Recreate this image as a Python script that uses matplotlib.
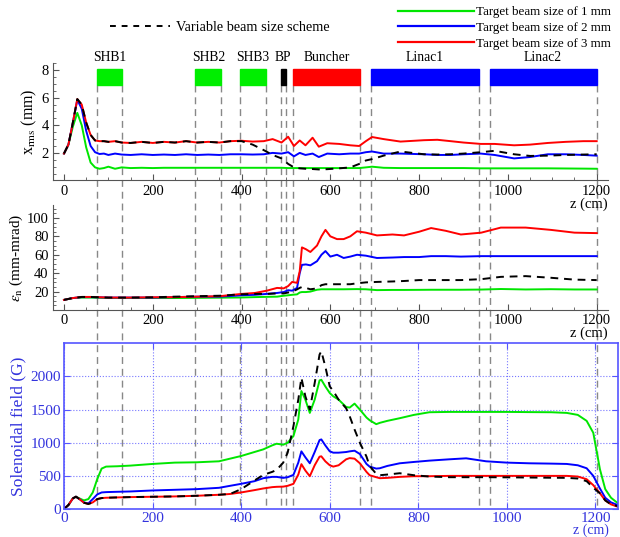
import matplotlib
matplotlib.use("Agg")
import matplotlib.pyplot as plt
from matplotlib.lines import Line2D
from matplotlib.patches import Rectangle
from matplotlib.ticker import MultipleLocator
import matplotlib.transforms as mtransforms

plt.rcParams['font.family'] = ['Liberation Serif', 'DejaVu Serif']
plt.rcParams['mathtext.fontset'] = 'stix'

# ---- beamline elements (z start, z end, colour) ----
elem_names = ['SHB1', 'SHB2', 'SHB3', 'BP', 'Buncher', 'Linac1', 'Linac2']
elem_start = [74, 296, 397, 488, 516, 691, 959]
elem_end = [130, 354, 454, 500, 666, 935, 1200]
elem_colors = ['#00ee00', '#00ee00', '#00ee00', 'black', '#ff0000', '#0000ff', '#0000ff']

# ---- x_rms (mm) ----
z_x = [0, 10, 20, 30, 40, 50, 60, 70, 80, 90, 100, 115, 130, 150, 175, 200, 225, 250, 275,
       300, 325, 350, 375, 400, 425, 450, 470, 490, 505, 518, 531, 544, 560, 574, 593, 620,
       645, 665, 680, 694, 720, 758, 811, 841, 871, 900, 939, 970, 1014, 1050, 1090, 1130,
       1170, 1200]
x_red = [1.95, 2.6, 4.2, 5.9, 5.5, 4.2, 3.3, 2.9, 2.85, 2.85, 2.8, 2.85, 2.75, 2.72, 2.8, 2.72,
         2.8, 2.75, 2.85, 2.75, 2.8, 2.75, 2.85, 2.88, 2.82, 2.85, 3.0, 2.75, 3.17, 2.5, 2.9,
         2.55, 3.1, 2.45, 2.7, 2.65, 2.55, 2.5, 2.85, 3.15, 3.0, 2.82, 2.92, 2.95, 2.85, 2.75,
         2.65, 2.65, 2.55, 2.6, 2.72, 2.8, 2.85, 2.85]
x_blue = [1.95, 2.6, 4.2, 5.85, 5.2, 3.6, 2.5, 2.05, 1.92, 1.95, 1.85, 1.95, 1.88, 1.85, 1.9,
          1.85, 1.88, 1.85, 1.9, 1.85, 1.88, 1.85, 1.9, 1.9, 1.88, 1.9, 2.0, 1.95, 2.05, 1.75,
          2.0, 1.85, 1.95, 1.7, 1.95, 1.9, 1.95, 1.95, 2.05, 2.1, 1.95, 1.95, 1.9, 1.85, 1.85,
          1.9, 1.95, 1.85, 1.6, 1.7, 1.9, 1.9, 1.85, 1.8]
x_green = [1.95, 2.6, 3.9, 4.9, 4.0, 2.4, 1.3, 0.95, 0.85, 0.9, 1.0, 0.85, 0.95, 0.9, 0.92,
           0.9, 0.92, 0.92, 0.92, 0.92, 0.92, 0.92, 0.92, 0.92, 0.92, 0.92, 0.92, 0.92, 0.9,
           0.9, 0.9, 0.9, 0.9, 0.9, 0.9, 0.9, 0.9, 0.9, 0.95, 1.0, 0.92, 0.9, 0.9, 0.9, 0.9,
           0.9, 0.88, 0.88, 0.88, 0.88, 0.88, 0.87, 0.86, 0.85]
x_black = [1.95, 2.6, 4.2, 5.9, 5.5, 4.2, 3.3, 2.9, 2.85, 2.85, 2.8, 2.85, 2.75, 2.72, 2.8,
           2.72, 2.8, 2.75, 2.85, 2.75, 2.8, 2.75, 2.85, 2.85, 2.6, 2.2, 1.85, 1.6, 1.2, 0.95,
           0.88, 0.85, 0.83, 0.8, 0.82, 0.88, 0.95, 1.2, 1.45, 1.55, 1.8, 2.1, 1.9, 1.88, 1.9,
           1.95, 2.05, 2.15, 1.9, 1.78, 1.8, 1.85, 1.88, 1.9]

# ---- normalized emittance (mm-mrad) ----
z_e = [0, 20, 40, 60, 100, 150, 200, 250, 300, 350, 400, 430, 457, 480, 495, 505, 514, 525,
       531, 536, 545, 555, 570, 580, 589, 600, 615, 630, 645, 660, 680, 705, 740, 766, 800,
       827, 860, 894, 940, 984, 1040, 1097, 1150, 1200]
e_red = [11, 13, 14.2, 14.2, 13.5, 13.5, 13.8, 14, 14.5, 15, 17.5, 18.5, 21, 24, 23.5, 26,
         30.5, 29.5, 42, 68, 66, 63, 70, 80, 87, 80, 77, 77, 80, 85.5, 84, 81, 82, 81, 85, 89,
         86, 82, 84, 89.5, 89.5, 87, 84, 83.5]
e_blue = [11, 13, 14, 14, 13.5, 13.5, 13.5, 14, 14.5, 14.5, 16, 16.5, 17.5, 18.5, 19.5, 21.5,
          21, 24, 40, 49, 49.5, 48.5, 53, 60, 64, 58, 60, 56.5, 58, 60, 59, 56.5, 57, 57.5,
          57.5, 58.5, 58.5, 58, 58.5, 58.5, 58.5, 58.5, 58.5, 58.5]
e_green = [11, 13, 13.5, 13.5, 13, 13, 13, 13, 13.2, 13.4, 13.6, 14, 14.3, 14.5, 15.5, 16,
           16.5, 17, 19, 19.5, 19.5, 20, 22, 22.5, 22.5, 22.5, 22.5, 22.5, 22.6, 22.7, 22.5,
           21.6, 21.8, 21.8, 21.9, 22, 22, 22, 22.2, 22.8, 22.3, 22.6, 22.3, 22.3]
e_black = [11, 13, 14.2, 14.2, 13.5, 13.5, 13.8, 14.5, 15, 15.5, 17, 17.5, 17.5, 18, 18, 19,
           20, 22.4, 24, 25, 24, 22.5, 23.5, 27, 28, 28, 28, 28, 28, 29, 30, 30.5, 31, 31.5,
           32.5, 32.5, 32.5, 32.5, 33.5, 36, 36.8, 35, 33, 32.5]

# ---- solenoidal field (G) ----
z_b = [0, 10, 20, 27, 35, 45, 55, 65, 75, 85, 95, 120, 150, 200, 250, 300, 350, 375, 400, 430,
       450, 470, 480, 495, 505, 518, 529, 536, 545, 555, 566, 577, 581, 590, 600, 608, 620, 637,
       645, 656, 668, 683, 690, 705, 713, 730, 758, 790, 825, 870, 908, 953, 1000, 1050, 1100,
       1135, 1160, 1180, 1195, 1210, 1222, 1235, 1250]
b_green = [0, 60, 160, 186, 160, 130, 150, 250, 450, 610, 640, 645, 655, 680, 700, 705, 720,
           760, 800, 860, 900, 960, 985, 970, 1000, 1100, 1350, 1780, 1650, 1450, 1650, 1940,
           1950, 1850, 1750, 1700, 1650, 1540, 1530, 1590, 1500, 1380, 1340, 1280, 1300, 1330,
           1370, 1420, 1460, 1465, 1465, 1465, 1465, 1462, 1460, 1450, 1420, 1330, 1150, 600,
           300, 170, 90]
b_blue = [0, 60, 160, 186, 150, 100, 85, 150, 220, 250, 255, 260, 265, 280, 290, 300, 320, 350,
          380, 420, 465, 485, 485, 470, 480, 515, 700, 870, 780, 690, 860, 1040, 1050, 960, 870,
          850, 850, 860, 870, 880, 830, 680, 640, 610, 615, 650, 690, 710, 730, 750, 765, 720,
          700, 690, 685, 680, 660, 615, 500, 310, 170, 100, 60]
b_red = [0, 60, 160, 186, 150, 95, 76, 100, 150, 165, 170, 175, 180, 185, 190, 200, 215, 227,
         250, 285, 310, 330, 335, 338, 350, 380, 520, 677, 580, 495, 660, 790, 795, 720, 660,
         640, 660, 750, 768, 760, 690, 560, 510, 480, 465, 470, 485, 495, 495, 500, 500, 500,
         500, 500, 500, 500, 490, 450, 360, 238, 130, 70, 35]
b_black = [0, 60, 160, 186, 150, 95, 76, 100, 150, 165, 170, 175, 180, 185, 190, 200, 215, 227,
           300, 430, 515, 560, 590, 700, 850, 1250, 1650, 1980, 1700, 1500, 1900, 2330, 2380,
           2150, 1850, 1780, 1650, 1520, 1400, 1200, 1000, 790, 650, 530, 510, 520, 540, 510,
           490, 480, 480, 480, 478, 475, 472, 470, 460, 420, 320, 238, 130, 70, 45]

fig = plt.figure(figsize=(6.2, 5.37), dpi=100)

ax1 = fig.add_axes([0.0853, 0.6639, 0.895, 0.2184])
ax2 = fig.add_axes([0.0853, 0.4227, 0.895, 0.1955])
ax3 = fig.add_axes([0.1032, 0.0521, 0.893, 0.3086])

green, blue, red = '#00e600', '#0000ff', '#ff0000'
lw = 1.4

# top and middle panels, mathematica style axes
for ax in (ax1, ax2):
    ax.set_xlim(-25, 1225)
    ax.patch.set_visible(False)
    for s in ('top', 'right'):
        ax.spines[s].set_visible(False)
    ax.spines['left'].set_color('#555555')
    ax.spines['bottom'].set_color('#555555')
    ax.xaxis.set_major_locator(MultipleLocator(200))
    ax.xaxis.set_minor_locator(MultipleLocator(50))
    ax.tick_params(which='both', direction='in', labelsize=10.5, colors='#555555',
                   labelcolor='black', pad=3)
    ax.tick_params(which='major', length=4)
    ax.tick_params(which='minor', length=2)
    ax.text(1.0, -0.205 if ax is ax1 else -0.225, 'z (cm)', transform=ax.transAxes,
            ha='right', va='center', fontsize=10.5)

ax1.plot(z_x, x_green, color=green, lw=lw)
ax1.plot(z_x, x_blue, color=blue, lw=lw)
ax1.plot(z_x, x_red, color=red, lw=lw)
ax1.plot(z_x, x_black, color='black', lw=lw, dashes=(4, 3))
ax1.set_ylim(0, 8.5)
ax1.yaxis.set_minor_locator(MultipleLocator(0.5))
ax1.set_yticks([2, 4, 6, 8])
ax1.set_ylabel(r'x$_{\rm rms}$ (mm)', fontsize=11.5, labelpad=2)

# element boxes and names
for name, a, b, c in zip(elem_names, elem_start, elem_end, elem_colors):
    ax1.add_patch(Rectangle((a, 6.9), b - a, 1.15, color=c, clip_on=False, zorder=3))
    ax1.text((a + b) / 2, 8.88, name, ha='center', va='center', fontsize=9.8)

ax2.plot(z_e, e_green, color=green, lw=lw)
ax2.plot(z_e, e_blue, color=blue, lw=lw)
ax2.plot(z_e, e_red, color=red, lw=lw)
ax2.plot(z_e, e_black, color='black', lw=lw, dashes=(4, 3))
ax2.set_ylim(0, 114)
ax2.yaxis.set_minor_locator(MultipleLocator(5))
ax2.set_yticks([20, 40, 60, 80, 100])
ax2.set_ylabel(r'$\epsilon_{\rm n}$ (mm-mrad)', fontsize=11, labelpad=1)

# bottom panel, blue frame with dotted grid
fc = '#5555ff'
ax3.patch.set_visible(False)
ax3.plot(z_b, b_green, color=green, lw=lw)
ax3.plot(z_b, b_blue, color=blue, lw=lw)
ax3.plot(z_b, b_red, color=red, lw=lw)
ax3.plot(z_b, b_black, color='black', lw=lw, dashes=(4, 3))
ax3.set_xlim(0, 1250)
ax3.set_ylim(0, 2500)
ax3.xaxis.set_major_locator(MultipleLocator(200))
ax3.set_yticks([0, 500, 1000, 1500, 2000])
for s in ax3.spines.values():
    s.set_color(fc)
    s.set_linewidth(1.2)
ax3.grid(True, color='#7777ff', linestyle=':', linewidth=0.8)
ax3.tick_params(direction='in', length=4, colors=fc, labelcolor='#3333dd', labelsize=11,
                top=True, right=True, pad=2)
ax3.set_ylabel('Solenoidal field (G)', color='#3333dd', fontsize=12.5, labelpad=3)
ax3.text(0.985, -0.127, 'z (cm)', transform=ax3.transAxes, ha='right', va='center',
         fontsize=10, color='#3333dd')

# element boundaries as dashed gray lines through all panels
trans = mtransforms.blended_transform_factory(ax1.transData, fig.transFigure)
for zb in sorted(set(elem_start + elem_end)):
    fig.add_artist(Line2D([zb, zb], [0.842, 0.052], transform=trans, color='#888888',
                          lw=1.0, dashes=(5, 3.5), zorder=-1))

# legends
h_g = Line2D([], [], color=green, lw=1.6)
h_b = Line2D([], [], color=blue, lw=1.6)
h_r = Line2D([], [], color=red, lw=1.6)
fig.legend([h_g, h_b, h_r],
           ['Target beam size of 1 mm', 'Target beam size of 2 mm',
            'Target beam size of 3 mm'],
           loc='upper left', bbox_to_anchor=(398 / 620, 1 - 6 / 537), frameon=False,
           fontsize=9.4, handlelength=5.8, handletextpad=0.2, labelspacing=0.28,
           borderpad=0, borderaxespad=0)
h_k = Line2D([], [], color='black', lw=1.4, dashes=(3, 3))
fig.legend([h_k], ['Variable beam size scheme'], loc='upper left',
           bbox_to_anchor=(110 / 620, 1 - 21 / 537), frameon=False, fontsize=10.3,
           handlelength=4.2, handletextpad=0.4, borderpad=0, borderaxespad=0)

fig.savefig('out.png', dpi=100)
